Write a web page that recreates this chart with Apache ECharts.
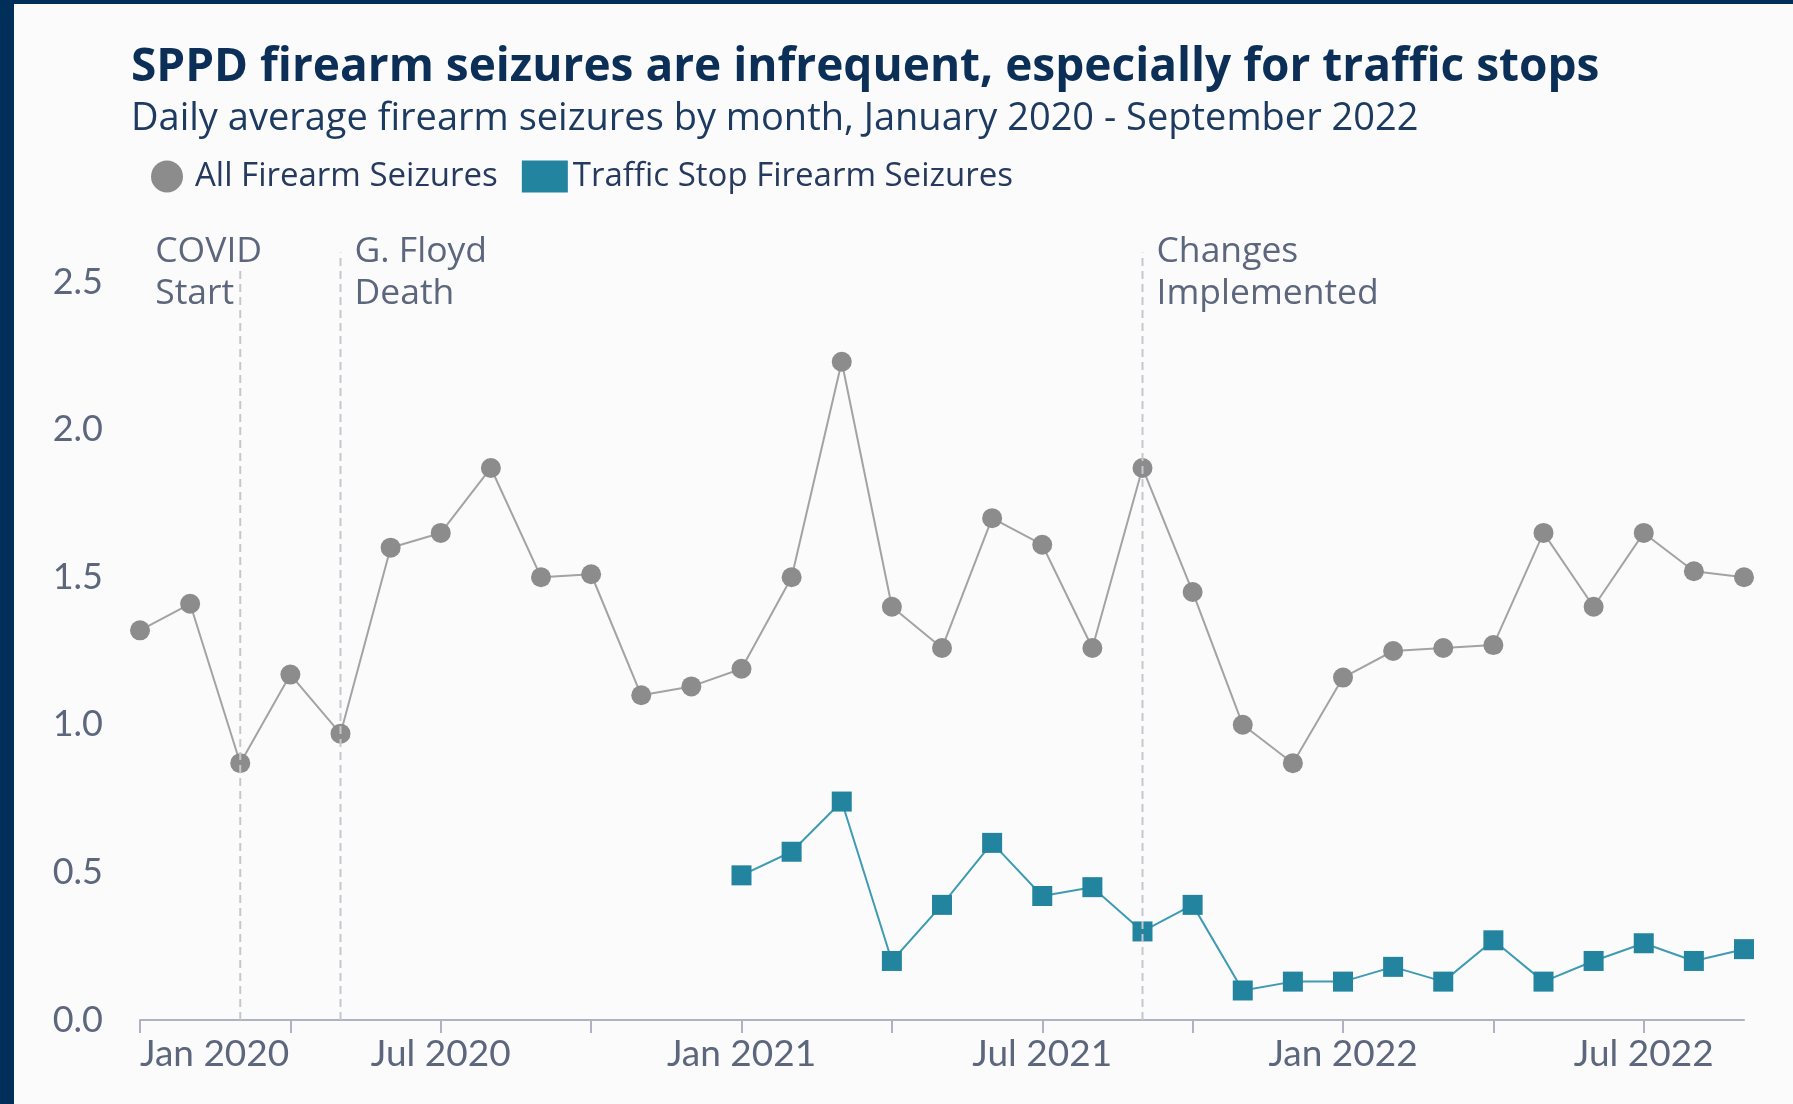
<!DOCTYPE html>
<html><head>
<meta charset="UTF-8">
<title>SPPD firearm seizures</title>
<script src="https://cdn.jsdelivr.net/npm/echarts@6/dist/echarts.min.js"></script>
<style>
html, body { margin: 0; padding: 0; width: 1793px; height: 1104px; overflow: hidden; background: #002f5a; }
#chart { position: absolute; left: 14px; top: 4px; width: 1779px; height: 1100px; background: #fbfbfb; }
</style>
</head>
<body>
<div id="chart"></div>
<script>
// monthly categories, Jan 2020 - Sep 2022
var months = ['Jan 2020','Feb 2020','Mar 2020','Apr 2020','May 2020','Jun 2020','Jul 2020','Aug 2020','Sep 2020','Oct 2020','Nov 2020','Dec 2020',
              'Jan 2021','Feb 2021','Mar 2021','Apr 2021','May 2021','Jun 2021','Jul 2021','Aug 2021','Sep 2021','Oct 2021','Nov 2021','Dec 2021',
              'Jan 2022','Feb 2022','Mar 2022','Apr 2022','May 2022','Jun 2022','Jul 2022','Aug 2022','Sep 2022'];
// daily average seizures
var allSeizures = [1.32,1.41,0.87,1.17,0.97,1.60,1.65,1.87,1.50,1.51,1.10,1.13,
                   1.19,1.50,2.23,1.40,1.26,1.70,1.61,1.26,1.87,1.45,1.00,0.87,
                   1.16,1.25,1.26,1.27,1.65,1.40,1.65,1.52,1.50];
var trafficSeizures = [null,null,null,null,null,null,null,null,null,null,null,null,
                       0.49,0.57,0.74,0.20,0.39,0.60,0.42,0.45,0.30,0.39,0.10,0.13,
                       0.13,0.18,0.13,0.27,0.13,0.20,0.26,0.20,0.24];
// event markers (month index, top of dashed line, label)
var eventMonth = [2, 4, 20];
var eventTop = [2.54, 2.6, 2.6];
var eventText = ['COVID\nStart', 'G. Floyd\nDeath', 'Changes\nImplemented'];
// y axis ticks
var yMin = 0, yMax = 2.5, yStep = 0.5;

var FONT = '"Open Sans"';
var AXIS_FONT = 'Lato';
var labelColor = '#5c667c';

function drawEvent(params, api) {
    var k = api.value(2);
    var base = api.coord([api.value(0), 0]);
    var top = api.coord([api.value(0), api.value(1)]);
    var ref = api.coord([api.value(0), yMax]);
    var dx = k === 0 ? -85 : 14;
    return {
        type: 'group',
        children: [
            { type: 'line', shape: { x1: base[0], y1: base[1], x2: top[0], y2: top[1] },
              style: { stroke: '#c5c7d0', lineWidth: 2, lineDash: [8, 5] } },
            { type: 'text', x: base[0] + dx, y: ref[1] - 51,
              style: { text: eventText[k], font: '35.5px ' + FONT, fill: labelColor, lineHeight: 42, align: 'left', verticalAlign: 'top' } }
        ]
    };
}

var chart = echarts.init(document.getElementById('chart'));
chart.setOption({
    animation: false,
    textStyle: { fontFamily: FONT },
    title: [
        { text: 'SPPD firearm seizures are infrequent, especially for traffic stops', left: 112, top: 36,
          textStyle: { fontFamily: FONT, fontSize: 46, fontWeight: 'bold', color: '#0b2f56' } },
        { text: 'Daily average firearm seizures by month, January 2020 - September 2022', left: 112, top: 91,
          textStyle: { fontFamily: FONT, fontSize: 38, fontWeight: 'normal', color: '#1d3a60' } }
    ],
    legend: {
        left: 132, top: 151,
        itemWidth: 46, itemHeight: 32, itemGap: 24,
        textStyle: { fontFamily: FONT, fontSize: 33, color: '#253a5e' },
        data: [{ name: 'All Firearm Seizures', icon: 'circle' }, { name: 'Traffic Stop Firearm Seizures', icon: 'rect' }]
    },
    grid: { left: 126, right: 49, top: 278, bottom: 84 },
    xAxis: {
        type: 'category',
        data: months,
        boundaryGap: false,
        axisLine: { lineStyle: { color: '#aeb2c2', width: 2 } },
        axisTick: { length: 13, interval: function (i) { return i % 3 === 0; }, lineStyle: { color: '#aeb2c2', width: 2 } },
        axisLabel: { interval: function (i) { return i % 6 === 0; }, fontFamily: AXIS_FONT, fontSize: 37, color: labelColor, margin: 16, alignMinLabel: 'left' },
        splitLine: { show: false }
    },
    yAxis: {
        type: 'value',
        min: yMin, max: yMax, interval: yStep,
        axisLine: { show: false },
        axisTick: { show: false },
        splitLine: { show: false },
        axisLabel: { fontFamily: AXIS_FONT, fontSize: 36, color: labelColor, margin: 37, formatter: function (v) { return v.toFixed(1); } }
    },
    series: [
        {
            name: 'All Firearm Seizures', type: 'line', data: allSeizures,
            symbol: 'circle', symbolSize: 20,
            itemStyle: { color: '#8c8c8c' },
            lineStyle: { color: '#a3a3a3', width: 2 }
        },
        {
            name: 'Traffic Stop Firearm Seizures', type: 'line', data: trafficSeizures,
            symbol: 'rect', symbolSize: 20,
            itemStyle: { color: '#22849e' },
            lineStyle: { color: '#3e9bb3', width: 2 }
        },
        {
            name: 'events', type: 'custom', clip: false, z: 5,
            data: eventMonth.map(function (m, k) { return [m, eventTop[k], k]; }),
            encode: { x: 0, y: 1 },
            renderItem: drawEvent,
            silent: true
        }
    ]
});
</script>
</body></html>
